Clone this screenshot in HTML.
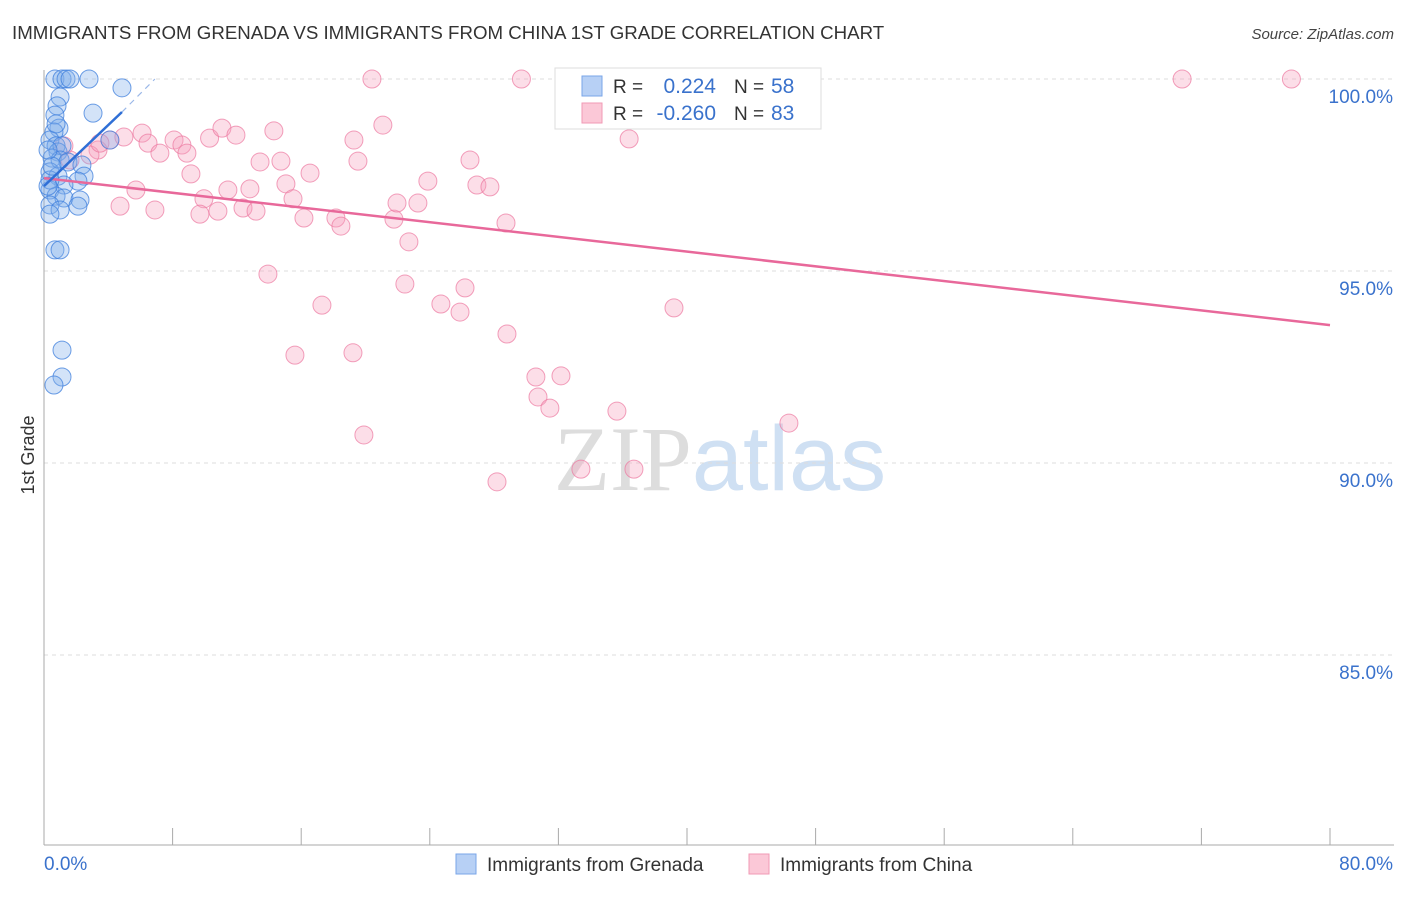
<!DOCTYPE html>
<html><head><meta charset="utf-8"><style>
body{margin:0;background:#fff;font-family:"Liberation Sans",sans-serif}
svg text{font-family:"Liberation Sans",sans-serif}
</style></head><body>
<svg id="chart" width="1406" height="892" xmlns="http://www.w3.org/2000/svg">
<text x="12" y="39" font-size="18.7" fill="#333">IMMIGRANTS FROM GRENADA VS IMMIGRANTS FROM CHINA 1ST GRADE CORRELATION CHART</text>
<text x="1394" y="39" font-size="15" fill="#444" text-anchor="end" font-style="italic">Source: ZipAtlas.com</text>
<text x="720" y="490" font-size="92" text-anchor="middle"><tspan fill="#ddd" font-family="Liberation Serif">ZIP</tspan><tspan fill="#cfe0f3">atlas</tspan></text>
<g id="grid"></g>
<g id="axes"></g>
<g id="pts"></g>
<g id="lines"></g>
<text transform="translate(34,455) rotate(-90)" font-size="18" fill="#333" text-anchor="middle">1st Grade</text>
<g>
<rect x="555" y="68" width="266" height="61" fill="#fff" stroke="#ddd"/>
<rect x="582" y="76" width="20" height="20" fill="#b7d0f5" stroke="#7aa6e8"/>
<rect x="582" y="103" width="20" height="20" fill="#fbc8d7" stroke="#f09ab4"/>
<text x="613" y="93" font-size="19" fill="#333">R =</text>
<text x="716" y="93" font-size="21" fill="#3a72cc" text-anchor="end">0.224</text>
<text x="734" y="93" font-size="19" fill="#333">N =</text>
<text x="771" y="93" font-size="21" fill="#3a72cc">58</text>
<text x="613" y="120" font-size="19" fill="#333">R =</text>
<text x="716" y="120" font-size="21" fill="#3a72cc" text-anchor="end">-0.260</text>
<text x="734" y="120" font-size="19" fill="#333">N =</text>
<text x="771" y="120" font-size="21" fill="#3a72cc">83</text>
</g>
<g>
<rect x="456" y="854" width="20" height="20" fill="#b7d0f5" stroke="#7aa6e8"/>
<text x="487" y="871" font-size="19" fill="#333">Immigrants from Grenada</text>
<rect x="749" y="854" width="20" height="20" fill="#fbc8d7" stroke="#f09ab4"/>
<text x="780" y="871" font-size="19" fill="#333">Immigrants from China</text>
</g>
</svg>
<script>
const blueX=[0.68,1.12,1.37,1.62,2.80,4.85,1.00,0.81,3.05,0.68,0.93,0.62,0.37,0.75,0.87,1.12,4.1,0.5,1.0,1.49,2.36,0.37,0.87,2.49,2.11,1.24,0.37,0.75,1.24,2.24,0.37,1.0,2.11,0.37,0.68,1.0,1.12,1.12,0.62,0.37,0.25,0.5,0.25,0.75];
const blueY=[100,100,100,100,100,99.77,99.53,99.3,99.11,99.06,98.72,98.62,98.41,98.26,98.1,98.26,98.41,97.94,97.89,97.84,97.76,97.58,97.47,97.47,97.34,97.24,97.11,96.95,96.9,96.85,96.72,96.59,96.69,96.48,95.55,95.55,92.94,92.24,92.03,97.37,97.21,97.73,98.15,98.83];
const pinkX=[20.4,29.7,32.9,41.2,70.8,77.6,36.4,4.1,4.97,6.1,6.47,7.21,8.09,8.58,8.89,10.3,11.07,11.94,14.3,19.28,21.08,26.5,26.93,27.74,13.44,14.74,19.53,9.14,16.55,23.88,15.05,11.44,12.81,9.95,15.49,4.73,6.9,9.7,10.82,12.38,13.19,16.17,18.16,18.47,21.77,21.96,23.26,28.74,22.7,13.93,22.45,26.19,17.29,24.69,25.88,39.19,28.8,15.61,19.22,30.6,32.16,30.73,31.47,35.64,46.34,19.9,33.4,36.7,28.18,3.36,1.62,2.86,1.24,3.48,5.72];
const pinkY=[100,100,100,100,100,100,98.44,98.41,98.49,98.59,98.33,98.07,98.41,98.28,98.07,98.46,98.72,98.54,98.65,98.41,98.8,97.89,97.24,97.19,97.84,97.86,97.86,97.53,97.55,97.34,97.27,97.11,97.14,96.88,96.88,96.69,96.59,96.48,96.56,96.64,96.56,96.38,96.38,96.17,96.35,96.77,96.77,96.25,95.76,94.92,94.66,94.56,94.11,94.14,93.93,94.04,93.36,92.81,92.87,92.24,92.27,91.72,91.43,91.35,91.04,90.73,89.84,89.84,89.51,98.15,97.89,98.02,98.26,98.33,97.11];
const pinkTrend=[[0,97.42],[80,93.59]];
const blueTrend=[[0,97.21],[4.85,99.14]];
const blueDash=[[4.85,99.14],[6.9,100]];
const yTicks=[100,95,90,85];
const yTickLabels=["100.0%","95.0%","90.0%","85.0%"];
const xTicks=[0,8,16,24,32,40,48,56,64,72,80];
const xEndLabels=["0.0%","80.0%"];

const NS="http://www.w3.org/2000/svg";
const sx=v=>44+v/80*1286;
const sy=v=>79+(100-v)/5*192;
function mk(t,a,p){const e=document.createElementNS(NS,t);for(const k in a)e.setAttribute(k,a[k]);p.appendChild(e);return e;}
const grid=document.getElementById('grid'),axes=document.getElementById('axes'),pts=document.getElementById('pts'),lines=document.getElementById('lines');
yTicks.forEach((t,i)=>{
 const g=mk('line',{x1:44,x2:1394,y1:sy(t),y2:sy(t),stroke:'#ddd','stroke-dasharray':'4,4'},grid);
 
 
 const l=mk('text',{x:1393,y:sy(t)+24,'font-size':19,fill:'#3a72cc','text-anchor':'end'},axes);
 l.textContent=yTickLabels[i];
 
 
});
const ax=mk('line',{x1:44,x2:44,y1:70,y2:845,stroke:'#aaa'},axes);


const bx=mk('line',{x1:44,x2:1394,y1:845,y2:845,stroke:'#aaa'},axes);


xTicks.forEach(t=>{
 const k=mk('line',{x1:sx(t),x2:sx(t),y1:828,y2:845,stroke:'#aaa'},axes);
 
 
});
const x0=mk('text',{x:44,y:870,'font-size':19,fill:'#3a72cc'},axes);x0.textContent=xEndLabels[0];


const x1=mk('text',{x:1393,y:870,'font-size':19,fill:'#3a72cc','text-anchor':'end'},axes);x1.textContent=xEndLabels[1];


pinkX.forEach((v,i)=>{
 const c=mk('circle',{cx:sx(v),cy:sy(pinkY[i]),r:9,fill:'rgba(246,160,188,0.35)',stroke:'rgba(236,120,160,0.7)'},pts);
 
 
});
blueX.forEach((v,i)=>{
 const c=mk('circle',{cx:sx(v),cy:sy(blueY[i]),r:9,fill:'rgba(130,175,235,0.35)',stroke:'rgba(60,125,220,0.75)'},pts);
 
 
});
const pl=mk('line',{x1:sx(pinkTrend[0][0]),y1:sy(pinkTrend[0][1]),x2:sx(pinkTrend[1][0]),y2:sy(pinkTrend[1][1]),stroke:'#e8689a','stroke-width':2.5},lines);


const bl=mk('line',{x1:sx(blueTrend[0][0]),y1:sy(blueTrend[0][1]),x2:sx(blueTrend[1][0]),y2:sy(blueTrend[1][1]),stroke:'#2f6fd6','stroke-width':2.5},lines);


const bd=mk('line',{x1:sx(blueDash[0][0]),y1:sy(blueDash[0][1]),x2:sx(blueDash[1][0]),y2:sy(blueDash[1][1]),stroke:'#9bb8e8','stroke-width':1.2,'stroke-dasharray':'6,5'},lines);


</script>
</body></html>
